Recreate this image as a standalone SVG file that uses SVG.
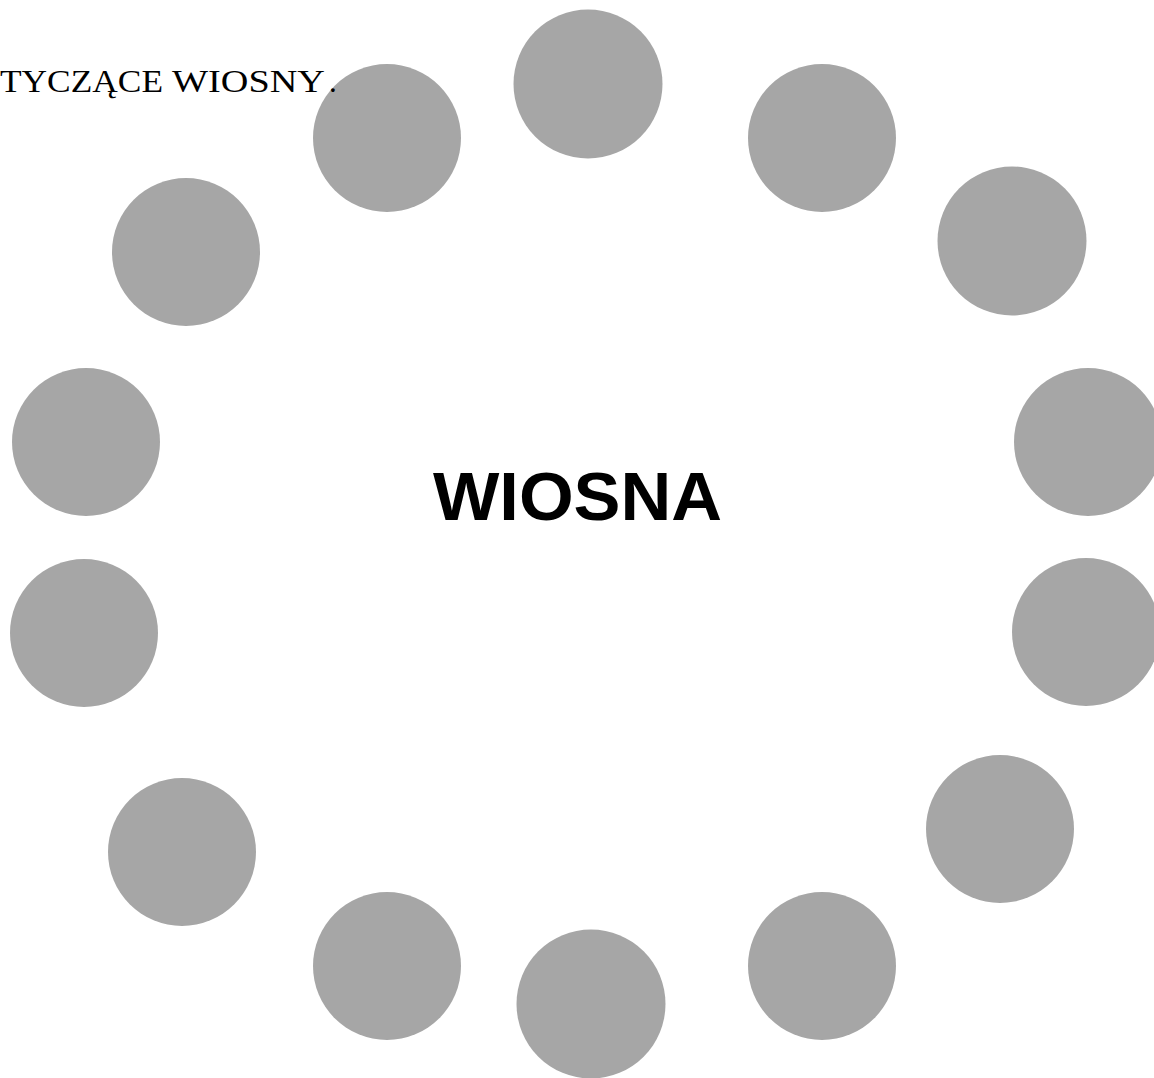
<svg xmlns="http://www.w3.org/2000/svg" width="1154" height="1078" viewBox="0 0 1154 1078">
<style>
.dot{fill:#a6a6a6}
.cap{font-family:"Liberation Serif","Times New Roman",serif;font-size:31px;fill:#000}
.title{font-family:"Liberation Sans",Arial,sans-serif;font-weight:bold;font-size:68px;fill:#000}
</style>
<rect width="1154" height="1078" fill="#fff"/>
<g id="nodes">
<g id="n1"><circle class="dot" cx="588" cy="84" r="74.5"/></g>
<g id="n2"><circle class="dot" cx="387" cy="138" r="74"/></g>
<g id="n3"><circle class="dot" cx="822" cy="138" r="74"/></g>
<g id="n4"><circle class="dot" cx="186" cy="252" r="74"/></g>
<g id="n5"><circle class="dot" cx="1012" cy="241" r="74.5"/></g>
<g id="n6"><circle class="dot" cx="86" cy="442" r="74"/></g>
<g id="n7"><circle class="dot" cx="1088" cy="442" r="74"/></g>
<g id="n8"><circle class="dot" cx="84" cy="633" r="74"/></g>
<g id="n9"><circle class="dot" cx="1086" cy="632" r="74"/></g>
<g id="n10"><circle class="dot" cx="182" cy="852" r="74"/></g>
<g id="n11"><circle class="dot" cx="1000" cy="829" r="74"/></g>
<g id="n12"><circle class="dot" cx="387" cy="966" r="74"/></g>
<g id="n13"><circle class="dot" cx="591" cy="1004" r="74.5"/></g>
<g id="n14"><circle class="dot" cx="822" cy="966" r="74"/></g>
</g>
<g id="connectors"></g>
<g id="labels">
<text class="cap" y="92"><tspan x="0" textLength="163" lengthAdjust="spacingAndGlyphs">TYCZĄCE</tspan> <tspan x="172" textLength="153" lengthAdjust="spacingAndGlyphs">WIOSNY</tspan><tspan x="329">.</tspan></text>
<text id="center" class="title" x="433" y="520" textLength="289" lengthAdjust="spacingAndGlyphs">WIOSNA</text>
</g>
</svg>
